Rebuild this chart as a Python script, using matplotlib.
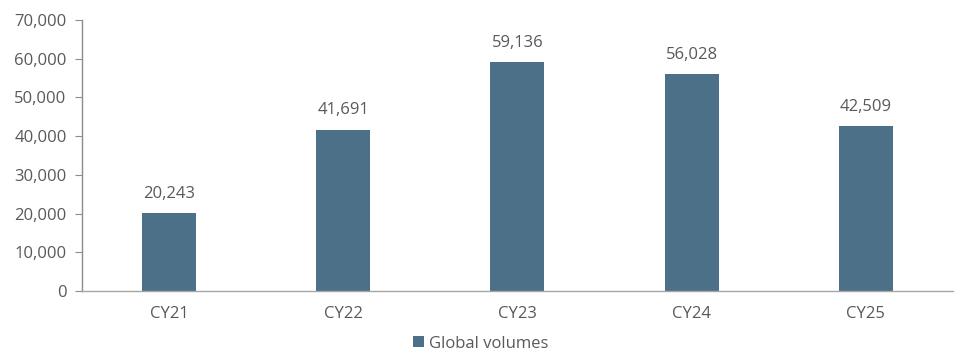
import matplotlib
matplotlib.use("Agg")
import matplotlib.pyplot as plt
from matplotlib.ticker import FuncFormatter, MultipleLocator
from matplotlib.patches import Patch

categories = ["CY21", "CY22", "CY23", "CY24", "CY25"]
global_volumes = [20243, 41691, 59136, 56028, 42509]
series_name = "Global volumes"

bar_color = "#4d7089"
text_color = "#595959"
axis_color = "#8c8c8c"

plt.rcParams["font.family"] = ["Open Sans", "DejaVu Sans"]

fig = plt.figure(figsize=(9.62, 3.56), dpi=100)
ax = fig.add_axes([0.0852, 0.1826, 0.9054, 0.7612])

x = range(len(categories))
bars = ax.bar(x, global_volumes, width=0.31, color=bar_color, zorder=2)

for xi, v in zip(x, global_volumes):
    ax.annotate(f"{v:,}", (xi, v), xytext=(0, 8), textcoords="offset points",
                ha="center", va="bottom", fontsize=12, color=text_color)

ax.set_xlim(-0.5, len(categories) - 0.5)
ax.set_ylim(0, 70000)
ax.yaxis.set_major_locator(MultipleLocator(10000))
ax.yaxis.set_major_formatter(FuncFormatter(lambda v, _: f"{int(v):,}"))
ax.set_xticks(list(x))
ax.set_xticklabels(categories)

for s in ["top", "right"]:
    ax.spines[s].set_visible(False)
ax.spines["left"].set_color(axis_color)
ax.spines["bottom"].set_color("#a6a6a6")
for s in ["left", "bottom"]:
    ax.spines[s].set_linewidth(1.0)

ax.tick_params(axis="y", length=5, color=axis_color, labelsize=12,
               labelcolor=text_color, pad=6)
ax.tick_params(axis="x", length=0, labelsize=12, labelcolor=text_color, pad=11)

handle = Patch(facecolor=bar_color, edgecolor="none")
fig.legend([handle], [series_name], loc="center", bbox_to_anchor=(0.5, 0.035),
           frameon=False, fontsize=12, labelcolor=text_color,
           handlelength=0.65, handleheight=0.65, handletextpad=0.3)

fig.savefig("out.png", dpi=100)
